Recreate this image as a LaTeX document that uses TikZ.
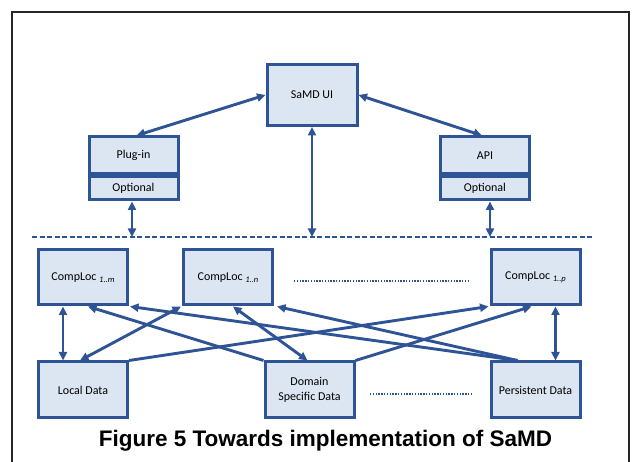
\documentclass[tikz,border=0pt]{standalone}
\usepackage{fontspec}
\setmainfont{Carlito}
\newfontfamily\capfont{Liberation Sans}
\usetikzlibrary{arrows.meta}
\definecolor{boxblue}{HTML}{2F5496}
\definecolor{boxfill}{HTML}{DCE6F2}
\newcommand{\subidx}[1]{{\fontsize{8.5}{8.5}\selectfont\itshape\raisebox{-0.6ex}{#1}}}
\begin{document}
\begin{tikzpicture}[x=1pt,y=-1pt,
  box/.style={draw=boxblue, fill=boxfill, line width=3pt, minimum width=89pt,
    minimum height=55pt, inner sep=0pt, font=\fontsize{12}{15}\selectfont, align=center},
  tipa/.tip={Triangle[length=8.5pt,width=8pt]},
  conn/.style={draw=boxblue, line width=2.9pt, -tipa},
  bconn/.style={draw=boxblue, line width=2.9pt, tipa-tipa},
  sepline/.style={draw=boxblue, line width=2.2pt, dash pattern=on 5pt off 2.5pt},
  dotline/.style={draw=boxblue, line width=2pt, dash pattern=on 1.3pt off 1.5pt},
  frame/.style={draw=black!85, line width=1.6pt}]
\useasboundingbox (0,0) rectangle (641,462);
% frame
\draw[frame] (12,462) -- (12,12) -- (629,12) -- (629,462);

% top layer
\node[box, minimum width=90pt, minimum height=61pt] (samd) at (312,95) {SaMD UI};
\node[box, minimum height=37pt] (plugin) at (133.5,155.5) {Plug-in};
\node[box, minimum height=23pt, anchor=north] (plugopt) at (plugin.south) {Optional};
\node[box, minimum height=37pt] (api) at (485,155.5) {API};
\node[box, minimum height=23pt, anchor=north] (apiopt) at (api.south) {Optional};

% separator
\coordinate (sepL) at (32,237);
\coordinate (sepR) at (592,237);
\draw[sepline] (sepL) -- (sepR);

% lower layer
\node[box] (cm) at (83,277.5) {CompLoc \subidx{1..m}};
\node[box] (cn) at (228,277.5) {CompLoc \subidx{1..n}};
\node[box] (cp) at (535.5,277.5) {CompLoc \subidx{1..p}};
\node[box, minimum height=56pt] (local) at (83,390) {Local Data};
\node[box, minimum height=56pt] (domain) at (309.5,390) {Domain\\Specific Data};
\node[box, minimum height=56pt] (pers) at (535.5,390) {Persistent Data};

% dotted ellipsis lines
\coordinate (d1a) at (294,281);
\coordinate (d1b) at (470,281);
\coordinate (d2a) at (370,394);
\coordinate (d2b) at (472,394);
\draw[dotline] (d1a) -- (d1b);
\draw[dotline] (d2a) -- (d2b);

% top connectors
\draw[bconn] (samd.west) -- ([xshift=3pt]plugin.north);
\draw[bconn] (samd.east) -- ([xshift=-3pt]api.north);
\draw[bconn] (samd.south) -- (samd.south |- sepL);
\draw[bconn] ([xshift=-1.5pt]plugopt.south) -- ([xshift=-1.5pt]plugopt.south |- sepL);
\draw[bconn] ([xshift=5pt]apiopt.south) -- ([xshift=5pt]apiopt.south |- sepL);

% lower connectors
\draw[bconn] ([xshift=-20pt]cm.south) -- ([xshift=-20pt]local.north);
\draw[conn] (domain.north west) -- ([xshift=5pt]cm.south);
\draw[conn] ([xshift=-18pt]pers.north) -- ([xshift=1pt]cm.south east);
\draw[bconn] ([xshift=-1pt]cn.south west) -- ([xshift=-3pt]local.north);
\draw[bconn] ([xshift=5pt]cn.south) -- ([xshift=-2pt]domain.north);
\draw[conn] ([xshift=-18pt]pers.north) -- ([xshift=3pt]cn.south east);
\draw[conn] (local.north east) -- ([xshift=-1pt]cp.south west);
\draw[conn] (domain.north east) -- ([xshift=-4pt]cp.south);
\draw[bconn] ([xshift=20pt]cp.south) -- ([xshift=20pt]pers.north);

% caption
\node[anchor=base, inner sep=0pt, font=\capfont\bfseries\fontsize{22.5}{26}\selectfont] (cap) at (325.5,447) {Figure 5 Towards implementation of SaMD};
\end{tikzpicture}
\end{document}
